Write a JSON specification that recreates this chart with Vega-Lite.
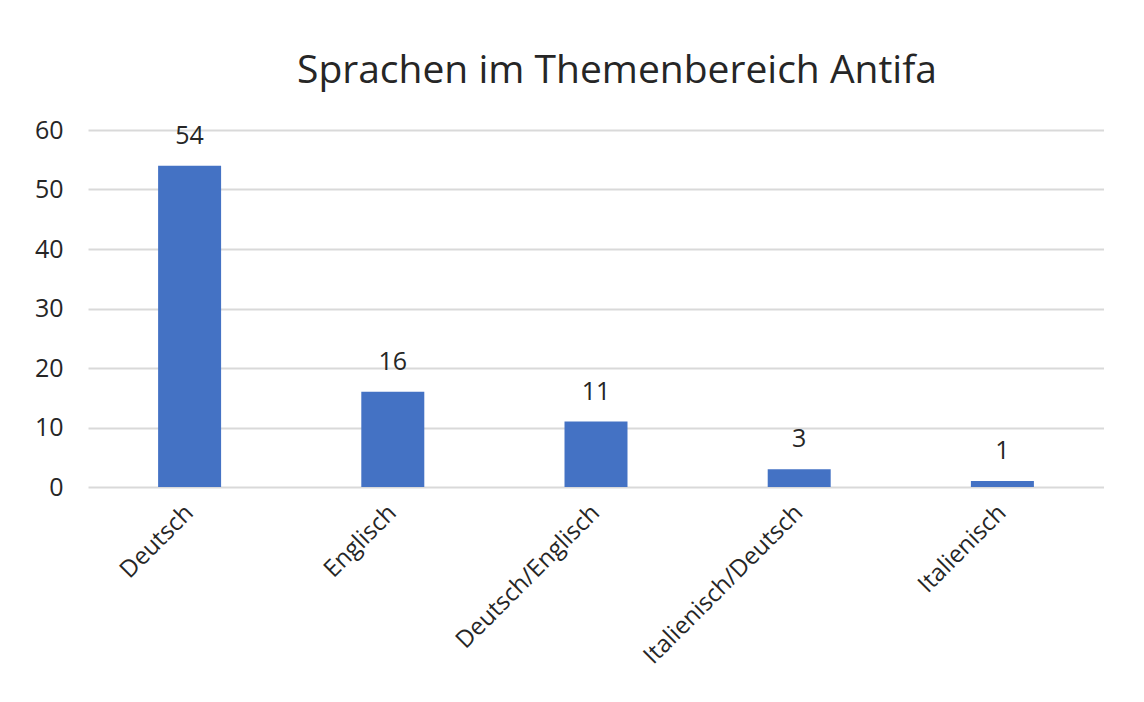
{
  "$schema": "https://vega.github.io/schema/vega-lite/v6.json",
  "width": 1016,
  "height": 357,
  "padding": {"left": 34, "top": 52, "right": 0, "bottom": 0},
  "background": "white",
  "title": {
    "text": "Sprachen im Themenbereich Antifa",
    "font": "Open Sans",
    "fontSize": 39,
    "fontWeight": "normal",
    "color": "#262626",
    "anchor": "middle",
    "dx": 21,
    "offset": 27
  },
  "data": {
    "values": [
      {"Sprache": "Deutsch", "Anzahl": 54},
      {"Sprache": "Englisch", "Anzahl": 16},
      {"Sprache": "Deutsch/Englisch", "Anzahl": 11},
      {"Sprache": "Italienisch/Deutsch", "Anzahl": 3},
      {"Sprache": "Italienisch", "Anzahl": 1}
    ]
  },
  "encoding": {
    "x": {
      "field": "Sprache",
      "type": "nominal",
      "sort": null,
      "title": null,
      "scale": {"paddingInner": 0.69, "paddingOuter": 0.345},
      "axis": {
        "labelAngle": -45,
        "labelAlign": "right",
        "labelBaseline": "middle",
        "labelFont": "Open Sans",
        "labelFontSize": 24,
        "labelColor": "#262626",
        "labelPadding": 22,
        "labelLimit": 0,
        "ticks": false,
        "domain": false,
        "grid": false
      }
    },
    "y": {
      "field": "Anzahl",
      "type": "quantitative",
      "title": null,
      "scale": {"domain": [0, 60], "nice": false},
      "axis": {
        "values": [0, 10, 20, 30, 40, 50, 60],
        "labelFont": "Open Sans",
        "labelFontSize": 25,
        "labelColor": "#262626",
        "labelPadding": 25,
        "ticks": false,
        "domain": false,
        "grid": true,
        "gridColor": "#d9d9d9",
        "gridWidth": 2
      }
    }
  },
  "layer": [
    {"mark": {"type": "bar", "color": "#4472C4"}},
    {
      "mark": {
        "type": "text",
        "font": "Open Sans",
        "fontSize": 25,
        "color": "#262626",
        "baseline": "alphabetic",
        "dy": -22
      },
      "encoding": {"text": {"field": "Anzahl", "type": "quantitative"}}
    }
  ],
  "config": {"view": {"stroke": null}}
}
